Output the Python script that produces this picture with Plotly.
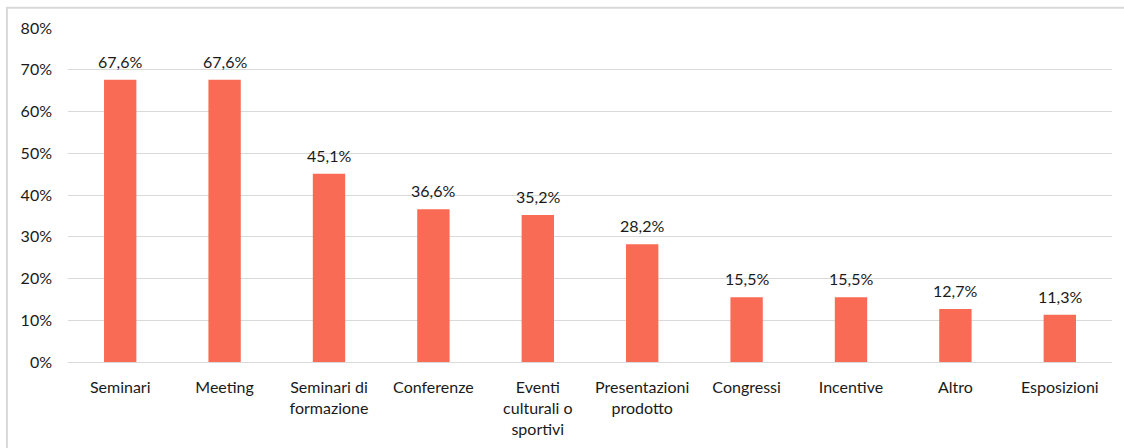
import plotly.graph_objects as go

categories = ["Seminari", "Meeting", "Seminari di<br>formazione", "Conferenze",
              "Eventi<br>culturali o<br>sportivi", "Presentazioni<br>prodotto",
              "Congressi", "Incentive", "Altro", "Esposizioni"]
values = [67.6, 67.6, 45.1, 36.6, 35.2, 28.2, 15.5, 15.5, 12.7, 11.3]
y_ticks = [0, 10, 20, 30, 40, 50, 60, 70, 80]
y_tick_labels = [f"{v}%" for v in y_ticks]
labels = [f"{v:.1f}%".replace(".", ",") for v in values]

FONT = "Lato, 'Open Sans', sans-serif"
TXT = "#1a1a1a"
FS = 16

fig = go.Figure(go.Bar(
    x=categories, y=values,
    marker=dict(color="#FA6B55", line=dict(width=0)),
    width=0.31, cliponaxis=False,
))

for c, v, t in zip(categories, values, labels):
    fig.add_annotation(x=c, y=v, text=t, showarrow=False, yanchor="bottom",
                       yshift=7, font=dict(family=FONT, size=FS, color=TXT))

fig.update_layout(
    width=1124, height=448,
    margin=dict(l=68, r=12, t=28, b=86),
    paper_bgcolor="white", plot_bgcolor="white",
    showlegend=False,
    font=dict(family=FONT, size=FS, color=TXT),
    xaxis=dict(showgrid=False, showline=False, ticks="", ticklabelstandoff=14,
               automargin=False,
               tickfont=dict(family=FONT, size=FS, color=TXT)),
    yaxis=dict(range=[0, 80], tickvals=y_ticks, ticktext=y_tick_labels,
               showgrid=True, gridcolor="#D9D9D9", gridwidth=1,
               zeroline=True, zerolinecolor="#D9D9D9", zerolinewidth=1,
               showline=False, ticks="", ticklabelstandoff=15,
               automargin=False,
               tickfont=dict(family=FONT, size=FS, color=TXT)),
    shapes=[dict(type="rect", xref="paper", yref="paper",
                 x0=-0.0585, x1=1.05, y0=-0.4, y1=1.061,
                 line=dict(color="#D9D9D9", width=2), layer="below")],
)

fig.write_html("out.html")
